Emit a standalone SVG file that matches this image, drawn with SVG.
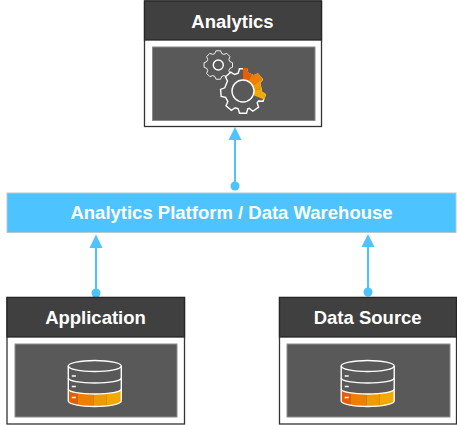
<svg xmlns="http://www.w3.org/2000/svg" xmlns:xlink="http://www.w3.org/1999/xlink" width="457" height="425" viewBox="0 0 457 425">
<style>
text{font-family:"Liberation Sans",Arial,sans-serif;font-weight:700;font-size:18.5px;fill:#fff;text-anchor:middle}
.frame{fill:#fff;stroke:#333;stroke-width:1.3}
.head{fill:#404040;stroke:#262626;stroke-width:1.3}
.inner{fill:#595959;stroke:#8c8c8c;stroke-width:1}
.line{stroke:#4dc3ff;stroke-width:2;fill:none}
.tip{fill:#4dc3ff}
.ol{fill:none;stroke:#fff;stroke-width:1.4;vector-effect:non-scaling-stroke}
</style>
<defs>
<path id="gear-small" d="M-3.52-22.22L3.52-22.22 5.47-17.89 8.78-16.51 13.23-18.2 18.2-13.23 16.51-8.78 17.89-5.47 22.22-3.52 22.22 3.52 17.89 5.47 16.51 8.78 18.2 13.23 13.23 18.2 8.78 16.51 5.47 17.89 3.52 22.22-3.52 22.22-5.47 17.89-8.78 16.51-13.23 18.2-18.2 13.23-16.51 8.78-17.89 5.47-22.22 3.52-22.22-3.52-17.89-5.47-16.51-8.78-18.2-13.23-13.23-18.2-8.78-16.51-5.47-17.89Z"/>
<path id="gear" d="M-3.52-22.22L3.52-22.22 4.79-17.87 10.61-15.15 14.76-16.98 19.29-11.59 16.77-7.82 18.47 .97 22.22 3.52 20.05 10.21 15.52 10.08 14.17 11.89 15.63 16.18 9.86 20.22 6.33 17.38 4.79 17.87 3.52 22.22-3.52 22.22-4.79 17.87-7.82 16.77-11.59 19.29-16.98 14.76-15.15 10.61-17.38 6.33-21.83 5.44-22.45-1.57-18.22-3.21-15.52-10.08-17.49-14.16-12.25-18.87-8.4-16.48-4.79-17.87Z"/>
<clipPath id="w1"><path d="M0 0L0-40 19.4-35Z"/></clipPath>
<clipPath id="w2"><path d="M0 0L19.4-35 34.3-20.6Z"/></clipPath>
<clipPath id="w3"><path d="M0 0L34.3-20.6 40-3.5Z"/></clipPath>
<clipPath id="w4"><path d="M0 0L40-3.5 37 15Z"/></clipPath>
<clipPath id="bandclip"><path d="M-26.5 23C-26.5 26-14.6 28 0 28S26.5 26 26.5 23V35C26.5 38 14.6 40.5 0 40.5S-26.500 38-26.500 35Z"/></clipPath>
<g id="db">
<g clip-path="url(#bandclip)">
<path d="M-26.5 20V44H-17V20Z" fill="#e85d04"/>
<path d="M-17 20V44H-1V20Z" fill="#ee7f00"/>
<path d="M-1 20V44H12V20Z" fill="#f09a00"/>
<path d="M12 20V44H26.5V20Z" fill="#f2aa00"/>
</g>
<path class="ol" d="M-26.5 0V35C-26.5 38-14.6 40.5 0 40.5S26.5 38 26.5 35V0"/>
<ellipse class="ol" cx="0" cy="0" rx="26.5" ry="5.5"/>
<path class="ol" d="M-26.5 12C-26.5 15-14.6 17 0 17S26.5 15 26.5 12"/>
<path class="ol" d="M-26.5 23C-26.5 26-14.6 28 0 28S26.5 26 26.5 23"/>
<path class="ol" d="M-23 10H-19M-23 20.500H-19M-23 31.500H-19"/>
</g>
</defs>

<g id="connectors">
<path class="line" d="M235 186V139"/><path class="tip" d="M235 127L241.500 140H228.500Z"/><circle class="tip" cx="235" cy="186" r="4.500"/>
<path class="line" d="M96 293V247"/><path class="tip" d="M96 234.500L102.500 248H89.500Z"/><circle class="tip" cx="96" cy="293" r="4.500"/>
<path class="line" d="M368 292V246"/><path class="tip" d="M368 234L374.500 247H361.500Z"/><circle class="tip" cx="368" cy="292" r="4.500"/>
</g>

<g id="analytics">
<rect class="frame" x="144.500" y="1" width="177" height="125.500"/>
<rect class="head" x="144.500" y="1" width="177" height="39"/>
<rect class="inner" x="152.500" y="47" width="162.500" height="73.500"/>
<text x="232.500" y="27.500">Analytics</text>
<use href="#gear-small" class="ol" transform="translate(218.300 65) scale(.64)"/>
<circle class="ol" cx="218.300" cy="65" r="5"/>
<use href="#gear" fill="#595959" stroke="#fff" stroke-width="1.400" transform="translate(243 91)"/>
<g transform="translate(243 91)">
<g clip-path="url(#w1)"><use href="#gear" fill="#e85d04" stroke="#e85d04" stroke-width="1.400"/></g>
<g clip-path="url(#w2)"><use href="#gear" fill="#ee7f00" stroke="#ee7f00" stroke-width="1.400"/></g>
<g clip-path="url(#w3)"><use href="#gear" fill="#f09a00" stroke="#f09a00" stroke-width="1.400"/></g>
<g clip-path="url(#w4)"><use href="#gear" fill="#f2aa00" stroke="#f2aa00" stroke-width="1.400"/></g>
<circle cx="0" cy="0" r="11" fill="#595959" stroke="#fff" stroke-width="1.400"/>
</g>
</g>

<g id="platform">
<rect x="7" y="193" width="449" height="39.500" fill="#4dc3ff" stroke="#b5c9d3" stroke-width="1"/>
<text x="231.500" y="218.500">Analytics Platform / Data Warehouse</text>
</g>

<g id="application">
<rect class="frame" x="7" y="297.500" width="177.500" height="126.500"/>
<rect class="head" x="7" y="297.500" width="177.500" height="39.500"/>
<rect class="inner" x="15" y="344" width="162" height="73"/>
<text x="95.500" y="324">Application</text>
<use href="#db" transform="translate(94.800 366)"/>
</g>

<g id="data-source">
<rect class="frame" x="279.500" y="297.500" width="177" height="126.500"/>
<rect class="head" x="279.500" y="297.500" width="177" height="39.500"/>
<rect class="inner" x="287" y="344" width="163" height="73"/>
<text x="367.700" y="324">Data Source</text>
<use href="#db" transform="translate(367.700 366)"/>
</g>
</svg>
